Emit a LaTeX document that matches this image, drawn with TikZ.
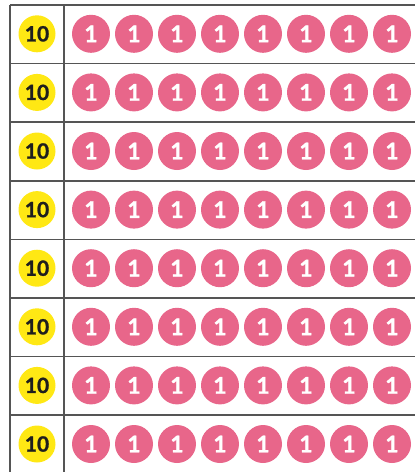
\documentclass[tikz,border=0pt]{standalone}
\usepackage{fontspec}
\newfontfamily\coinfont{Lato}[BoldFeatures={FakeBold=1.2}]
\usepackage{tikz}
\usetikzlibrary{positioning}
\definecolor{mypink}{RGB}{232,102,138}
\definecolor{myyellow}{RGB}{255,232,20}
\definecolor{mygrid}{RGB}{85,85,85}
\definecolor{mydark}{RGB}{30,30,30}
\tikzset{
  tencoin/.style={circle, fill=myyellow, minimum size=37pt, inner sep=0pt,
    font=\coinfont\bfseries\fontsize{21}{21}\selectfont, text=mydark},
  onecoin/.style={circle, fill=mypink, minimum size=38pt, inner sep=0pt,
    font=\coinfont\bfseries\fontsize{23}{23}\selectfont, text=white},
  gridline/.style={line width=1.6pt, color=mygrid}
}

\begin{document}
\begin{tikzpicture}[x=1pt, y=-1pt]
  \useasboundingbox (0,0) rectangle (415,472);

  % Grid
  \foreach \r in {0,...,7}
    \draw[gridline] (10,5+58.6*\r) -- (415,5+58.6*\r);
  \draw[gridline] (10,5) -- (10,472);
  \draw[gridline] (64,5) -- (64,472);

  % Coins
  \foreach \r in {1,...,8} {
    \node[tencoin] (ten\r) at (37,33.8+58.6*\r-58.6) {10};
    \foreach \c in {1,...,8}
      \node[onecoin] (one\r-\c) at (91+43*\c-43,33.8+58.6*\r-58.6) {1};
  }
\end{tikzpicture}
\end{document}
